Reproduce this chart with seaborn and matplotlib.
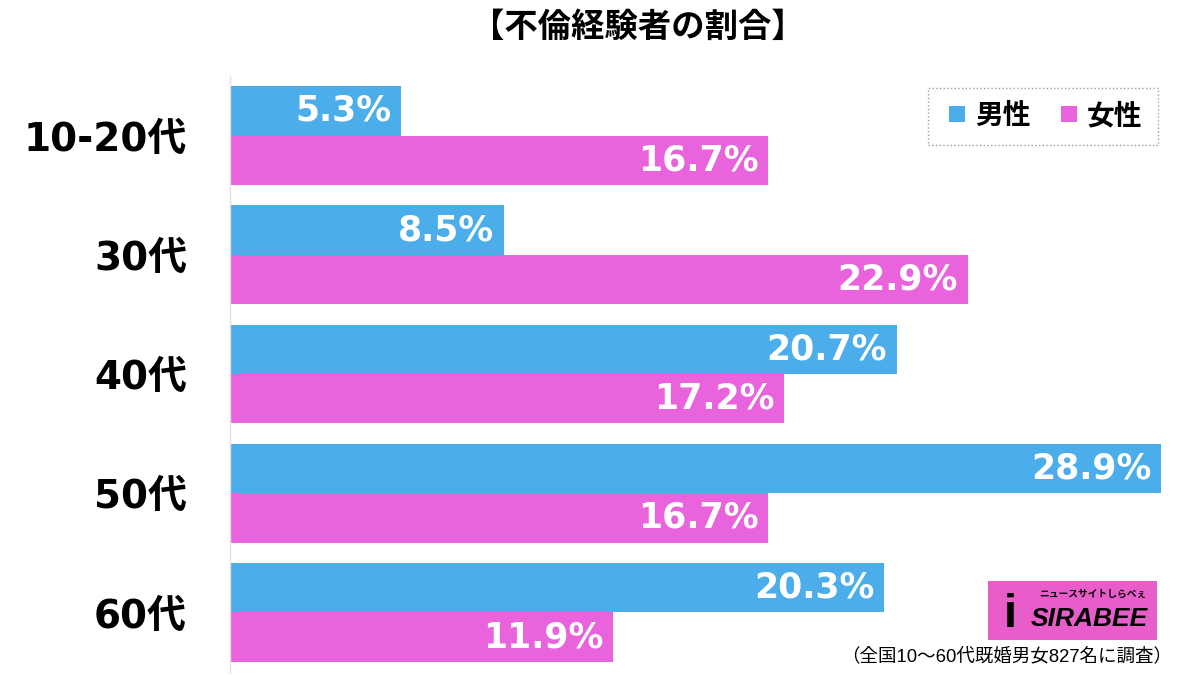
import matplotlib.pyplot as plt
from matplotlib.lines import Line2D
import pandas as pd
import seaborn as sns

# Data
ages = ['10-20代', '30代', '40代', '50代', '60代']
male = [5.3, 8.5, 20.7, 28.9, 20.3]
female = [16.7, 22.9, 17.2, 16.7, 11.9]
series = ['男性', '女性']
colours = ['#4BADE9', '#E963DC']

sns.set_theme(style='white')
plt.rcParams['font.family'] = ['Liberation Sans', 'Noto Sans CJK JP', 'DejaVu Sans']
wide = ['DejaVu Sans', 'Noto Sans CJK JP']

df = pd.DataFrame({
    '年代': ages * 2,
    '割合': male + female,
    '性別': [series[0]] * len(ages) + [series[1]] * len(ages),
})

fig = plt.figure(figsize=(12, 6.75), dpi=100)
ax = fig.add_axes([230 / 1200, 3 / 675, 940 / 1200, 596 / 675])

sns.barplot(
    data=df, y='年代', x='割合', hue='性別', order=ages, hue_order=series,
    palette=colours, orient='h', width=0.83, gap=0, saturation=1,
    legend=False, ax=ax, linewidth=0
)

ax.set_xlim(0, 29.18)
ax.set_ylim(4.5, -0.5)
ax.set_xlabel('')
ax.set_ylabel('')
ax.set_xticks([])
sns.despine(ax=ax, top=True, right=True, bottom=True)
ax.spines['left'].set_color('#e6dede')
ax.spines['left'].set_linewidth(1)
ax.tick_params(axis='y', length=0, pad=31)
for t in ax.get_yticklabels():
    t.set_fontsize(28)
    t.set_fontweight('bold')
    t.set_family(wide)
    t.set_color('black')

# value labels inside the bar ends
for cont in ax.containers:
    for bar in cont:
        w = bar.get_width()
        ax.text(
            w - 0.3, bar.get_y() + bar.get_height() / 2, f'{w:.1f}%',
            color='white', fontsize=25, fontweight='bold', family=wide,
            ha='right', va='center'
        )

# legend
handles = [
    Line2D([], [], marker='s', linestyle='none', markersize=11,
           markerfacecolor=c, markeredgewidth=0, label=s)
    for s, c in zip(series, colours)
]
leg = ax.legend(
    handles=handles, loc='upper right', bbox_to_anchor=(1158 / 1200, 1 - 88 / 675),
    bbox_transform=fig.transFigure, ncol=2, frameon=True, fancybox=False,
    prop={'size': 20, 'weight': 'bold'}, handletextpad=0.15, columnspacing=0.9,
    borderpad=0.55, handlelength=1.0, borderaxespad=0, labelcolor='black'
)
leg.get_frame().set_edgecolor('#888888')
leg.get_frame().set_linestyle(':')
leg.get_frame().set_linewidth(1)

# title
fig.text(638 / 1200, 1 - 28 / 675, '【不倫経験者の割合】', ha='center', va='center',
         fontsize=24, fontweight='bold', color='black')

# logo
lax = fig.add_axes([988 / 1200, 1 - 640 / 675, 169 / 1200, 59 / 675])
lax.set_facecolor('#E95DCB')
lax.set_xticks([])
lax.set_yticks([])
for s in lax.spines.values():
    s.set_visible(False)
lax.text(0.13, 0.42, 'i', fontsize=34, fontweight='bold', color='black',
         ha='center', va='center', transform=lax.transAxes)
lax.text(0.6, 0.35, 'SIRABEE', fontsize=19, fontweight='bold', style='italic',
         color='black', ha='center', va='center', transform=lax.transAxes)
lax.text(0.62, 0.78, 'ニュースサイトしらべぇ', fontsize=7, fontweight='bold',
         color='black', ha='center', va='center', transform=lax.transAxes)

# footnote
fig.text(1172 / 1200, 1 - 656 / 675, '（全国10〜60代既婚男女827名に調査）',
         ha='right', va='center', fontsize=13.3, color='black')

fig.savefig('out.png', dpi=100, facecolor='white')
